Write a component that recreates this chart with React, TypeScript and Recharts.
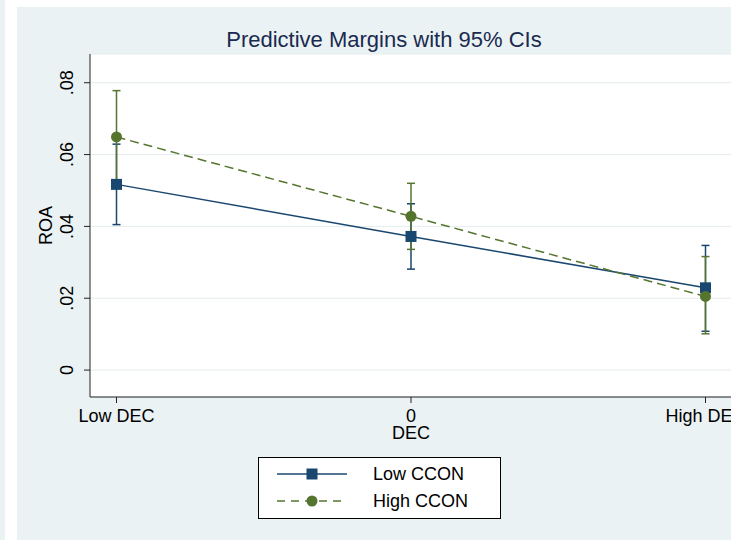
import React from 'react';
import { ComposedChart, Line, XAxis, YAxis, CartesianGrid, ErrorBar } from 'recharts';

// categories on the DEC axis, plotted at -1 / 0 / 1
const decLabels = ['Low DEC', '0', 'High DEC'];
const decPositions = [-1, 0, 1];
const roaTicks = [0, 0.02, 0.04, 0.06, 0.08];

// Low CCON: margin and 95% CI
const lowCcon = [0.0517, 0.0372, 0.0229];
const lowCconLo = [0.0405, 0.0281, 0.0108];
const lowCconHi = [0.0629, 0.0463, 0.0347];

// High CCON: margin and 95% CI
const highCcon = [0.0649, 0.0428, 0.0205];
const highCconLo = [0.0521, 0.0336, 0.0101];
const highCconHi = [0.0778, 0.052, 0.0316];

const navy = '#1a476f';
const green = '#55752f';
const panel = '#eaf2f3';
const font = '"Liberation Sans", Arial, sans-serif';

const data = decPositions.map((pos, i) => ({
    dec: pos,
    low: lowCcon[i],
    lowErr: [lowCcon[i] - lowCconLo[i], lowCconHi[i] - lowCcon[i]],
    high: highCcon[i],
    highErr: [highCcon[i] - highCconLo[i], highCconHi[i] - highCcon[i]],
}));

const fmtRoa = (v: number) => (v === 0 ? '0' : v.toFixed(2).replace(/^0/, ''));
const fmtDec = (v: number) => decLabels[decPositions.indexOf(v)] ?? '';

const RoaTick = (props: any) => {
    const { x, y, payload } = props;
    const tx = x - 11;
    return (
        <text x={tx} y={y} transform={`rotate(-90, ${tx}, ${y})`} textAnchor="middle"
            fontSize={18} fontFamily={font} fill="#000">
            {fmtRoa(payload.value)}
        </text>
    );
};

const RoaLabel = (props: any) => {
    const vb = props.viewBox || { x: 0, y: 54, width: 90, height: 343 };
    const cx = 52;
    const cy = vb.y + vb.height / 2;
    return (
        <text x={cx} y={cy} transform={`rotate(-90, ${cx}, ${cy})`} textAnchor="middle"
            fontSize={18} fontFamily={font} fill="#000">
            ROA
        </text>
    );
};

const SquareDot = (props: any) => {
    const { cx, cy, index } = props;
    return <rect key={`sq-${index}`} x={cx - 5.5} y={cy - 5.5} width={11} height={11} fill={navy} />;
};

const ChartLegend: React.FC = () => (
    <svg width={243} height={62} style={{ position: 'absolute', left: 258, top: 457 }}>
        <rect x={0.5} y={0.5} width={242} height={61} fill="#fff" stroke="#000" />
        <line x1={19} x2={89} y1={17} y2={17} stroke={navy} strokeWidth={1.5} />
        <rect x={48.5} y={11.5} width={11} height={11} fill={navy} />
        <line x1={19} x2={89} y1={44} y2={44} stroke={green} strokeWidth={1.5} strokeDasharray="8 6" />
        <circle cx={54} cy={44} r={5.5} fill={green} />
        <text x={115} y={23} fontSize={18} fontFamily={font} fill="#000">Low CCON</text>
        <text x={115} y={50} fontSize={18} fontFamily={font} fill="#000">High CCON</text>
    </svg>
);

const App: React.FC = () => {
    return (
        <div style={{ position: 'absolute', left: 0, top: 0, width: 731, height: 540, overflow: 'hidden', background: '#fff', fontFamily: font }}>
            <div style={{ position: 'absolute', left: 0, top: 0, width: 5, height: 540, background: panel }} />
            <div style={{ position: 'absolute', left: 17, top: 7, right: 0, bottom: 0, background: panel }} />
            <svg width={731} height={60} style={{ position: 'absolute', left: 0, top: 0 }}>
                <text x={384} y={47} textAnchor="middle" fontSize={22} fontFamily={font} fill="#1a2a50">
                    Predictive Margins with 95% CIs
                </text>
            </svg>
            <div style={{ position: 'absolute', left: 0, top: 0 }}>
                <ComposedChart width={732} height={540} data={data} margin={{ top: 54, right: 0, bottom: 0, left: 0 }}>
                    <CartesianGrid vertical={false} fill="#fff" stroke="#e4ecee" strokeWidth={1} />
                    <XAxis
                        dataKey="dec"
                        type="number"
                        domain={[-1.09, 1.09]}
                        ticks={decPositions}
                        tickFormatter={fmtDec}
                        height={143}
                        tickSize={6}
                        tickMargin={6}
                        stroke="#222"
                        tick={{ fontSize: 18, fontFamily: font, fill: '#000' }}
                        interval={0}
                        allowDataOverflow
                        label={{ value: 'DEC', position: 'insideTop', offset: 29, fontSize: 18, fontFamily: font, fill: '#000' }}
                    />
                    <YAxis
                        type="number"
                        domain={[-0.0075, 0.088]}
                        ticks={roaTicks}
                        width={90}
                        tickSize={6}
                        tickMargin={0}
                        stroke="#222"
                        tick={<RoaTick />}
                        allowDataOverflow
                        label={<RoaLabel />}
                    />
                    <Line dataKey="low" stroke="none" dot={false} activeDot={false} isAnimationActive={false} legendType="none">
                        <ErrorBar dataKey="lowErr" direction="y" width={4} stroke={navy} strokeWidth={1.5} />
                    </Line>
                    <Line dataKey="high" stroke="none" dot={false} activeDot={false} isAnimationActive={false} legendType="none">
                        <ErrorBar dataKey="highErr" direction="y" width={4} stroke={green} strokeWidth={1.5} />
                    </Line>
                    <Line dataKey="low" type="linear" stroke={navy} strokeWidth={1.5} dot={<SquareDot />} activeDot={false} isAnimationActive={false} />
                    <Line dataKey="high" type="linear" stroke={green} strokeWidth={1.5} strokeDasharray="9 5"
                        dot={{ r: 5.5, fill: green, stroke: 'none', strokeDasharray: '' }} activeDot={false} isAnimationActive={false} />
                </ComposedChart>
            </div>
            <ChartLegend />
        </div>
    );
};

export default App;
